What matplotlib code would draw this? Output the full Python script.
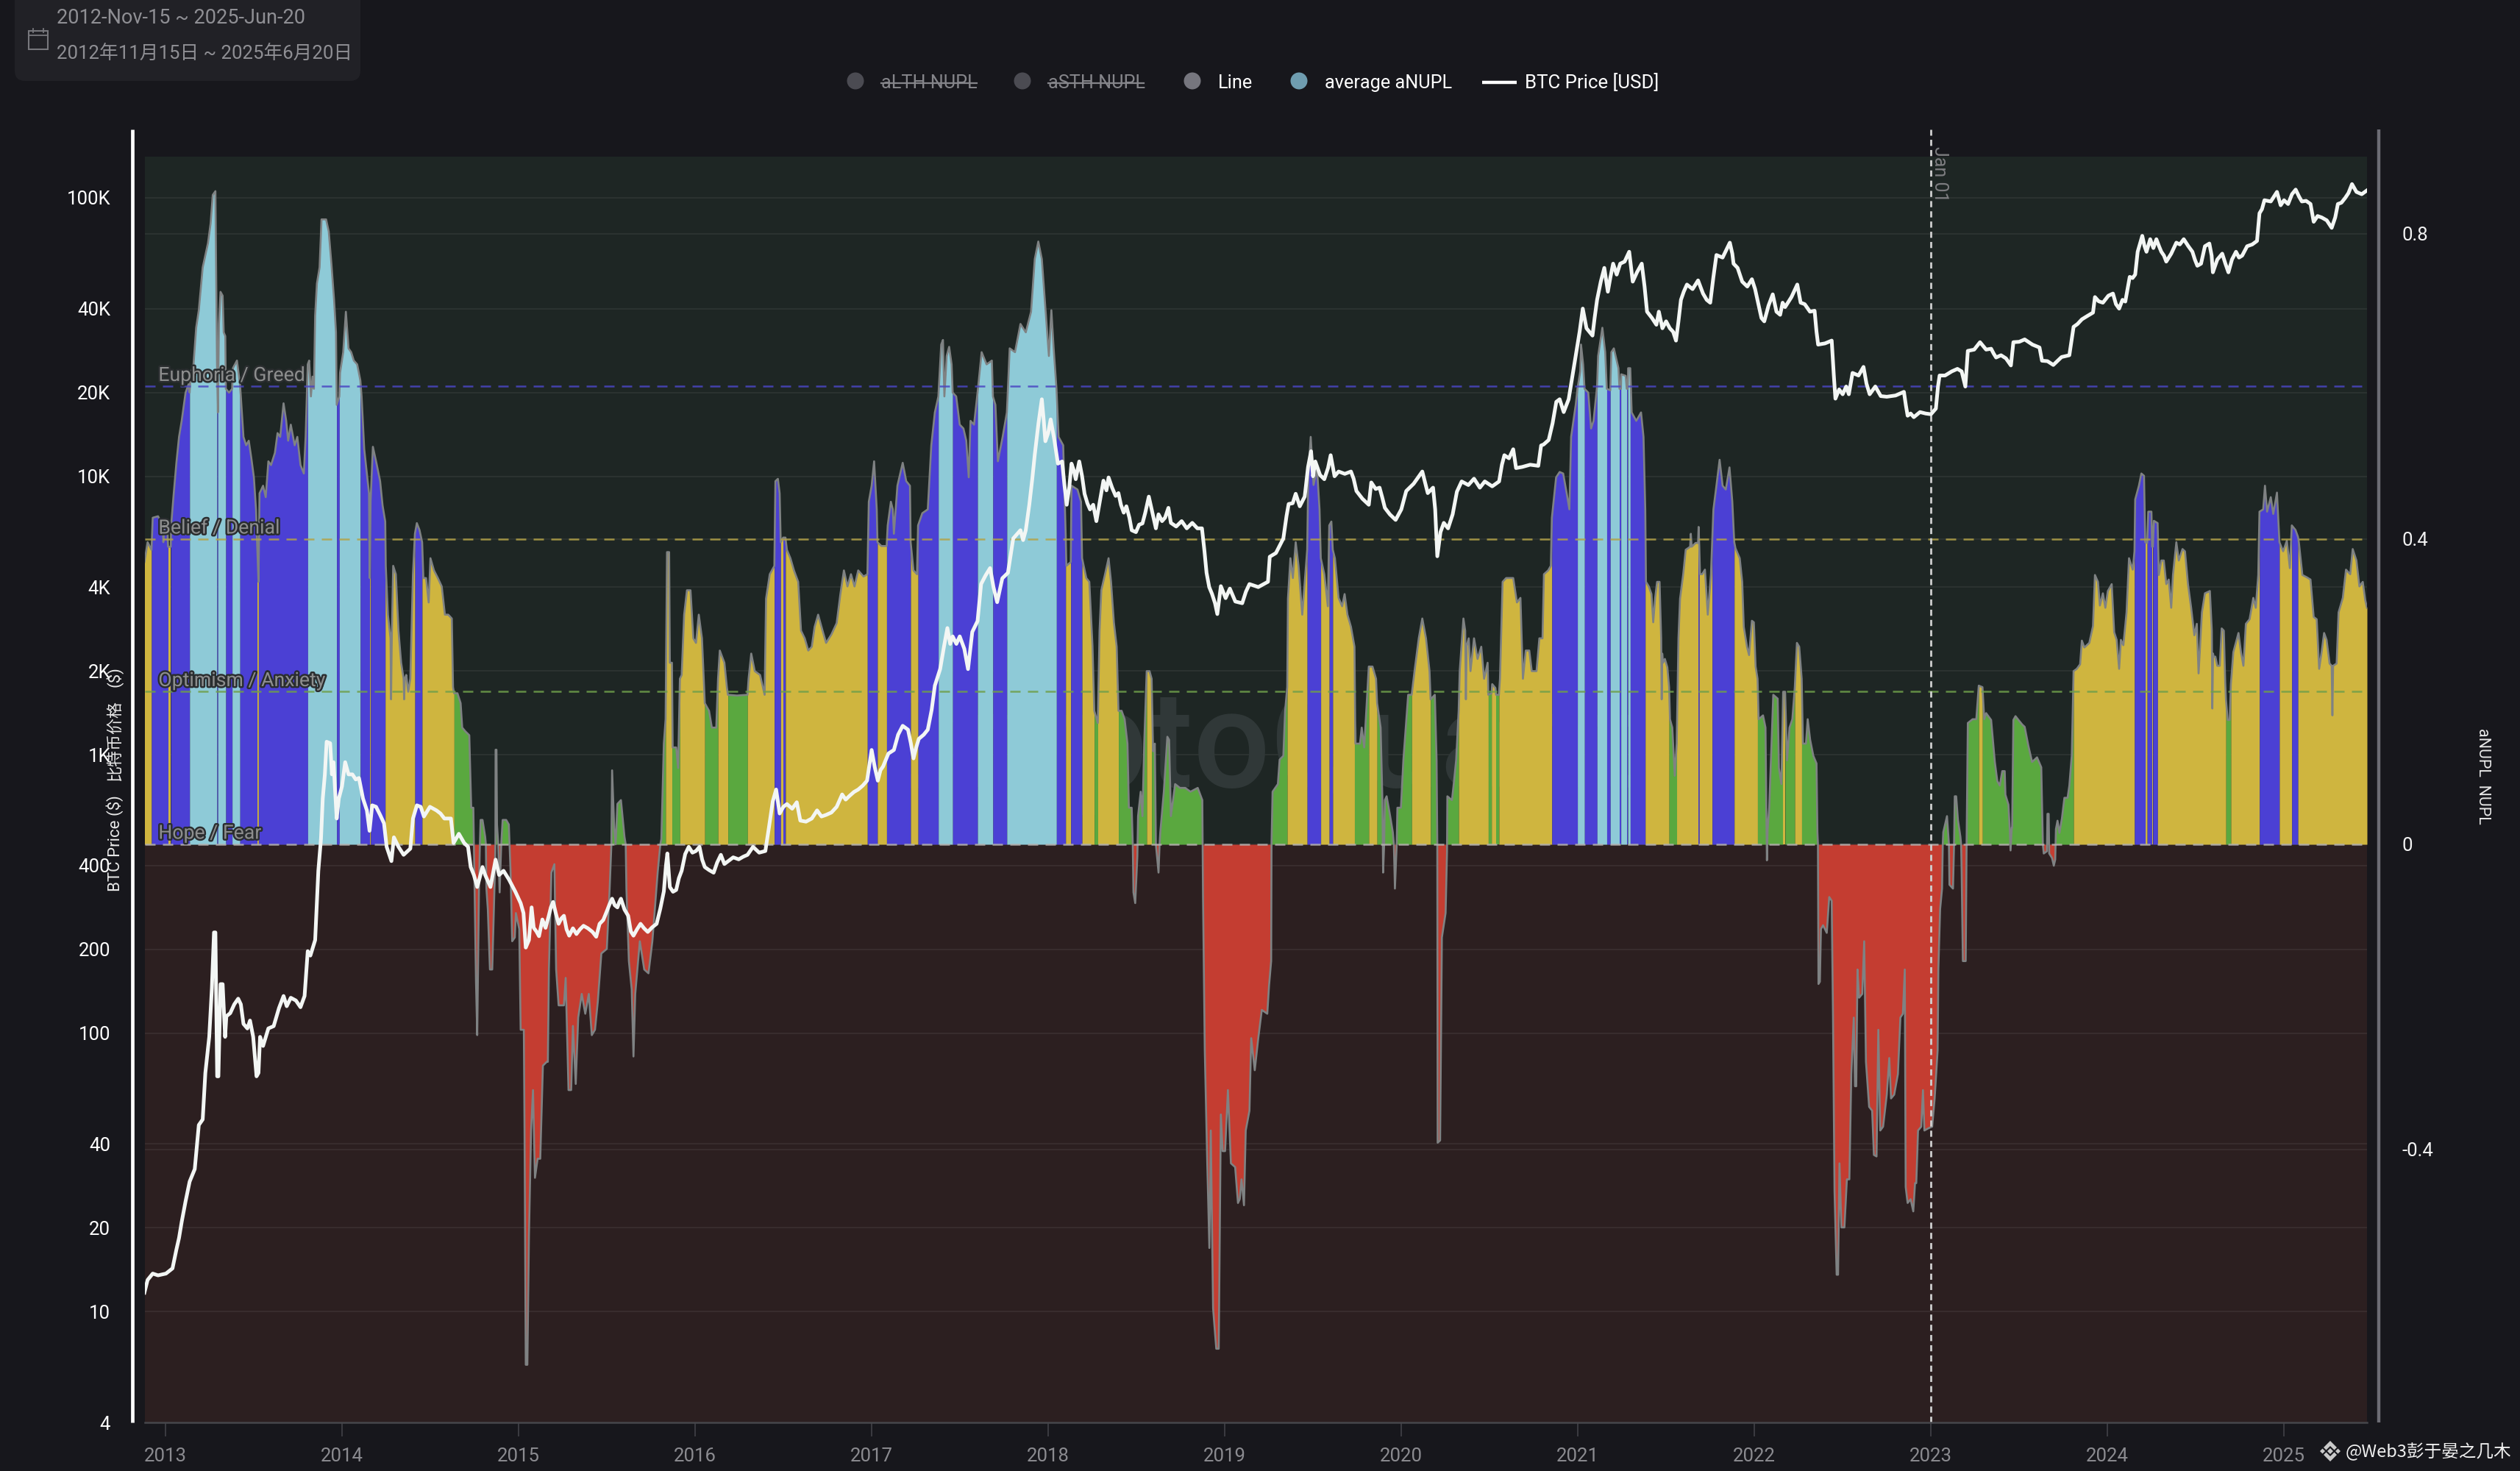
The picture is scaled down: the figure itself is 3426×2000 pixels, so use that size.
import numpy as np
import matplotlib
matplotlib.use("Agg")
import matplotlib.pyplot as plt
import matplotlib.patheffects as pe
from matplotlib.patches import FancyBboxPatch, Rectangle, Circle, Polygon

plt.rcParams["font.family"] = ["Roboto", "Noto Sans CJK SC", "DejaVu Sans"]

# aNUPL as (decimal year, value)
nupl_2013 = [(2012.881,.37),(2012.899,.396),(2012.921,.386),(2012.928,.428),(2012.958,.43),(2012.985,.418),(2012.988,.396),(2012.995,.423),
 (2013.010,.418),(2013.015,.39),(2013.030,.39),(2013.033,.42),(2013.047,.46),(2013.062,.50),(2013.077,.534),(2013.092,.555),(2013.114,.592),
 (2013.131,.603),(2013.137,.592),(2013.144,.618),(2013.159,.629),(2013.174,.677),(2013.189,.70),(2013.211,.756),(2013.226,.772),(2013.241,.788),
 (2013.256,.814),(2013.268,.851),(2013.283,.856),(2013.286,.777),(2013.292,.63),(2013.297,.566),(2013.303,.682),(2013.312,.724),(2013.324,.719),
 (2013.330,.671),(2013.339,.666),(2013.342,.597),(2013.360,.592),(2013.378,.597),(2013.382,.624),(2013.405,.634),(2013.422,.603),(2013.427,.587),
 (2013.442,.534),(2013.457,.523),(2013.472,.529),(2013.486,.507),(2013.501,.481),(2013.513,.439),(2013.519,.396),(2013.527,.344),(2013.533,.46),
 (2013.553,.47),(2013.568,.455),(2013.583,.502),(2013.598,.497),(2013.620,.513),(2013.635,.539),(2013.650,.534),(2013.669,.578),(2013.684,.555),
 (2013.695,.529),(2013.710,.55),(2013.732,.523),(2013.747,.534),(2013.765,.497),(2013.784,.486),(2013.794,.534),(2013.806,.629),(2013.814,.634),
 (2013.824,.587),(2013.833,.613),(2013.841,.597),(2013.848,.693),(2013.858,.735),(2013.873,.756),(2013.884,.819),(2013.910,.819),(2013.925,.803),
 (2013.940,.761),(2013.955,.714),(2013.966,.671),(2013.970,.576),(2013.985,.587),(2013.989,.618)]
nupl_2014 = [(2014.007,.645),(2014.022,.698),(2014.037,.65),(2014.052,.645),(2014.067,.634),(2014.086,.629),(2014.104,.608),(2014.111,.587),
 (2014.126,.518),(2014.141,.486),(2014.153,.46),(2014.157,.349),(2014.162,.45),(2014.175,.521),(2014.193,.502),(2014.216,.476),(2014.230,.444),
 (2014.245,.423),(2014.248,.365),(2014.260,.301),(2014.275,.27),(2014.278,.19),(2014.282,.27),(2014.290,.365),(2014.305,.354),(2014.320,.28),
 (2014.335,.238),(2014.349,.217),(2014.352,.19),(2014.356,.217),(2014.364,.222),(2014.375,.20),(2014.387,.217),(2014.402,.354),(2014.413,.407),
 (2014.424,.421),(2014.439,.412),(2014.454,.396),(2014.461,.349),(2014.476,.349),(2014.491,.317),(2014.501,.375),(2014.521,.359),(2014.543,.349),
 (2014.565,.338),(2014.583,.301),(2014.602,.301),(2014.622,.296),(2014.629,.206),(2014.635,.198),(2014.654,.198),(2014.672,.185),(2014.681,.153),
 (2014.699,.148),(2014.721,.143),(2014.732,.048),(2014.744,.048),(2014.747,0),(2014.751,-.058),(2014.759,-.18),(2014.766,-.25),(2014.776,-.058),
 (2014.781,0),(2014.785,.032),(2014.796,.032),(2014.811,.01),(2014.815,0),(2014.818,-.058),(2014.826,-.085),(2014.838,-.164),(2014.851,-.164),
 (2014.866,-.037),(2014.869,0),(2014.870,.124),(2014.875,.124),(2014.878,.026),(2014.885,0),(2014.893,-.063),(2014.902,0),(2014.910,.032),
 (2014.930,.032),(2014.945,.026),(2014.949,0),(2014.955,-.037),(2014.964,-.127),(2014.979,-.122),(2014.985,-.09)]
nupl_2015 = [(2015.004,-.111),(2015.012,-.243),(2015.030,-.243),(2015.034,-.375),(2015.041,-.682),(2015.050,-.682),(2015.059,-.513),(2015.071,-.375),
 (2015.082,-.322),(2015.093,-.437),(2015.108,-.412),(2015.123,-.412),(2015.138,-.29),(2015.160,-.285),(2015.166,-.285),(2015.172,-.164),
 (2015.186,-.037),(2015.203,-.026),(2015.213,-.164),(2015.227,-.211),(2015.257,-.211),(2015.267,-.175),(2015.283,-.322),(2015.298,-.322),
 (2015.308,-.238),(2015.324,-.314),(2015.338,-.227),(2015.358,-.196),(2015.378,-.222),(2015.398,-.196),(2015.415,-.25),(2015.433,-.243),
 (2015.449,-.206),(2015.469,-.143),(2015.500,-.137),(2015.516,-.058),(2015.526,0),(2015.530,.097),(2015.542,.021),(2015.550,0),(2015.560,.053),
 (2015.580,.058),(2015.600,.01),(2015.607,0),(2015.611,-.058),(2015.625,-.153),(2015.641,-.19),(2015.651,-.278),(2015.661,-.196),(2015.687,-.127),
 (2015.712,-.164),(2015.736,-.169),(2015.758,-.127),(2015.788,-.037),(2015.803,0),(2015.809,.007),(2015.823,.132),(2015.833,.164),(2015.841,.383),
 (2015.853,.383),(2015.857,.238),(2015.869,.238),(2015.873,.127),(2015.893,.127),(2015.904,.10),(2015.914,.217),(2015.924,.222),(2015.938,.301),
 (2015.954,.333),(2015.974,.333),(2015.990,.27)]
nupl_2016 = [(2016.005,.264),(2016.021,.301),(2016.039,.27),(2016.049,.217),(2016.055,.185),(2016.079,.175),(2016.095,.153),(2016.120,.153),
 (2016.130,.217),(2016.140,.254),(2016.166,.238),(2016.180,.206),(2016.186,.196),(2016.237,.195),(2016.297,.196),(2016.303,.217),(2016.318,.25),
 (2016.338,.227),(2016.368,.222),(2016.394,.196),(2016.402,.322),(2016.423,.354),(2016.449,.365),(2016.455,.476),(2016.469,.479),(2016.479,.46),
 (2016.485,.396),(2016.499,.402),(2016.512,.402),(2016.520,.386),(2016.540,.375),(2016.560,.359),(2016.584,.344),(2016.600,.28),(2016.621,.27),
 (2016.641,.254),(2016.661,.259),(2016.677,.285),(2016.697,.301),(2016.722,.28),(2016.742,.264),(2016.772,.275),(2016.802,.29),(2016.823,.328),
 (2016.843,.359),(2016.863,.338),(2016.883,.354),(2016.903,.338),(2016.924,.359),(2016.954,.351),(2016.976,.354),(2016.984,.449)]
nupl_2017 = [(2017.000,.47),(2017.014,.502),(2017.029,.439),(2017.033,.396),(2017.055,.391),(2017.085,.391),(2017.091,.418),(2017.109,.449),
 (2017.120,.439),(2017.126,.407),(2017.146,.47),(2017.176,.50),(2017.196,.476),(2017.217,.47),(2017.221,.396),(2017.237,.359),(2017.257,.354),
 (2017.263,.418),(2017.287,.434),(2017.318,.439),(2017.338,.523),(2017.358,.566),(2017.378,.587),(2017.394,.655),(2017.404,.661),(2017.412,.587),
 (2017.425,.64),(2017.439,.652),(2017.453,.629),(2017.459,.592),(2017.479,.587),(2017.499,.55),(2017.520,.545),(2017.536,.529),(2017.550,.481),
 (2017.560,.555),(2017.580,.55),(2017.600,.592),(2017.623,.645),(2017.651,.629),(2017.681,.634),(2017.687,.587),(2017.701,.576),(2017.715,.502),
 (2017.742,.534),(2017.766,.566),(2017.782,.65),(2017.812,.645),(2017.843,.682),(2017.873,.671),(2017.903,.698),(2017.924,.767),(2017.944,.79),
 (2017.964,.767),(2017.984,.703)]
nupl_2018 = [(2018.004,.64),(2018.018,.70),(2018.031,.65),(2018.047,.597),(2018.059,.534),(2018.085,.523),(2018.099,.407),(2018.103,.365),
 (2018.128,.37),(2018.132,.47),(2018.166,.465),(2018.186,.449),(2018.192,.375),(2018.216,.349),(2018.233,.344),(2018.251,.26),(2018.261,.175),
 (2018.281,.159),(2018.291,.28),(2018.301,.333),(2018.322,.354),(2018.342,.375),(2018.356,.344),(2018.372,.291),(2018.388,.259),(2018.398,.175),
 (2018.416,.175),(2018.433,.164),(2018.449,.132),(2018.457,.048),(2018.473,.048),(2018.479,0),(2018.483,-.063),(2018.493,-.077),(2018.505,-.016),
 (2018.509,.037),(2018.524,.069),(2018.534,.037),(2018.544,.132),(2018.558,.227),(2018.574,.227),(2018.586,.217),(2018.594,.122),(2018.604,.132),
 (2018.610,0),(2018.625,-.037),(2018.631,0),(2018.635,.016),(2018.655,.069),(2018.675,.141),(2018.685,.137),(2018.695,.037),(2018.719,.079),
 (2018.746,.074),(2018.776,.074),(2018.806,.069),(2018.847,.074),(2018.873,.058),(2018.877,-.069),(2018.887,-.27),(2018.901,-.418),(2018.913,-.529),
 (2018.921,-.375),(2018.934,-.608),(2018.952,-.661),(2018.966,-.661),(2018.978,-.354),(2018.988,-.402)]
nupl_2019 = [(2019.002,-.402),(2019.018,-.322),(2019.035,-.418),(2019.059,-.423),(2019.075,-.47),(2019.085,-.465),(2019.095,-.439),(2019.109,-.473),
 (2019.119,-.375),(2019.140,-.349),(2019.150,-.254),(2019.170,-.296),(2019.190,-.254),(2019.210,-.217),(2019.241,-.222),(2019.251,-.185),
 (2019.263,-.153),(2019.265,0),(2019.271,.069),(2019.301,.079),(2019.311,.111),(2019.332,.116),(2019.342,.175),(2019.354,.206),(2019.358,.322),
 (2019.372,.375),(2019.386,.349),(2019.402,.396),(2019.418,.365),(2019.439,.301),(2019.453,.344),(2019.467,.386),(2019.473,.481),(2019.487,.534),
 (2019.503,.471),(2019.523,.492),(2019.537,.439),(2019.544,.375),(2019.564,.354),(2019.584,.312),(2019.592,.418),(2019.604,.423),(2019.612,.386),
 (2019.624,.375),(2019.645,.323),(2019.665,.312),(2019.679,.328),(2019.695,.301),(2019.715,.285),(2019.735,.259),(2019.740,.132),(2019.766,.132),
 (2019.776,.153),(2019.790,.127),(2019.816,.233),(2019.837,.233),(2019.857,.217),(2019.863,.185),(2019.883,.153),(2019.893,.058),(2019.897,-.037),
 (2019.903,0),(2019.907,.058),(2019.917,.063),(2019.937,.037),(2019.952,.016),(2019.958,0),(2019.964,-.058),(2019.974,0),(2019.978,.048),(2019.998,.048)]
nupl_2020 = [(2020.012,.111),(2020.039,.196),(2020.059,.196),(2020.075,.227),(2020.099,.27),(2020.119,.296),(2020.140,.27),(2020.160,.227),
 (2020.166,.19),(2020.190,.196),(2020.200,.11),(2020.204,0),(2020.206,-.391),(2020.220,-.388),(2020.230,-.122),(2020.251,-.09),(2020.259,-.01),
 (2020.261,.063),(2020.287,.058),(2020.297,.079),(2020.311,.111),(2020.325,.175),(2020.331,.227),(2020.352,.296),(2020.362,.28),(2020.366,.19),
 (2020.370,.26),(2020.382,.27),(2020.392,.227),(2020.412,.27),(2020.432,.243),(2020.453,.259),(2020.469,.217),(2020.489,.238),(2020.493,.196),
 (2020.511,.198),(2020.515,.21),(2020.533,.205),(2020.537,.196),(2020.553,.196),(2020.559,.217),(2020.574,.344),(2020.594,.349),(2020.634,.349),
 (2020.655,.317),(2020.675,.323),(2020.689,.217),(2020.705,.254),(2020.725,.254),(2020.739,.227),(2020.766,.227),(2020.782,.27),(2020.800,.27),
 (2020.808,.354),(2020.832,.359),(2020.847,.365),(2020.853,.428),(2020.877,.481),(2020.897,.488),(2020.917,.486),(2020.937,.46),(2020.952,.439),
 (2020.962,.534),(2020.988,.576),(2020.998,.597)]
nupl_2021 = [(2021.014,.62),(2021.018,.655),(2021.030,.629),(2021.038,.597),(2021.059,.592),(2021.075,.545),(2021.089,.555),(2021.109,.60),
 (2021.115,.64),(2021.139,.677),(2021.155,.645),(2021.164,.597),(2021.184,.595),(2021.190,.645),(2021.204,.65),(2021.230,.624),(2021.236,.597),
 (2021.244,.597),(2021.246,.616),(2021.271,.614),(2021.277,.597),(2021.283,.597),(2021.285,.624),(2021.297,.624),(2021.305,.566),(2021.331,.555),
 (2021.358,.566),(2021.372,.534),(2021.382,.439),(2021.386,.344),(2021.402,.338),(2021.417,.328),(2021.427,.291),(2021.438,.323),(2021.449,.344),
 (2021.463,.344),(2021.472,.27),(2021.475,.19),(2021.478,.25),(2021.482,.238),(2021.493,.243),(2021.507,.232),(2021.517,.206),(2021.522,.164),
 (2021.535,.153),(2021.549,.09),(2021.560,.132),(2021.570,.27),(2021.579,.322),(2021.597,.354),(2021.611,.386),(2021.636,.39),(2021.640,.407),
 (2021.645,.39),(2021.667,.395),(2021.681,.395),(2021.684,.416),(2021.688,.39),(2021.692,.354),(2021.704,.354),(2021.720,.36),(2021.736,.301),
 (2021.754,.354),(2021.761,.396),(2021.768,.439),(2021.785,.47),(2021.803,.504),(2021.820,.47),(2021.838,.465),(2021.859,.494),(2021.875,.449),
 (2021.886,.396),(2021.893,.388),(2021.917,.375),(2021.931,.344),(2021.940,.285),(2021.958,.259),(2021.970,.248),(2021.986,.293),(2021.997,.291)]
nupl_2022 = [(2022.007,.233),(2022.018,.217),(2022.024,.164),(2022.049,.169),(2022.063,.153),(2022.068,.037),(2022.071,-.021),(2022.075,.02),
 (2022.084,.048),(2022.097,.132),(2022.107,.196),(2022.132,.191),(2022.139,.10),(2022.153,.079),(2022.163,.2),(2022.174,.2),(2022.185,.11),
 (2022.199,.153),(2022.215,.164),(2022.229,.206),(2022.241,.264),(2022.254,.259),(2022.268,.217),(2022.275,.132),(2022.292,.132),(2022.302,.164),
 (2022.316,.137),(2022.334,.116),(2022.352,.106),(2022.357,.016),(2022.360,0),(2022.363,-.183),(2022.371,-.18),(2022.377,-.111),(2022.389,-.106),
 (2022.410,-.116),(2022.424,-.069),(2022.438,-.074),(2022.445,-.217),(2022.454,-.455),(2022.466,-.564),(2022.474,-.564),(2022.482,-.418),
 (2022.493,-.502),(2022.510,-.502),(2022.524,-.439),(2022.538,-.439),(2022.549,-.301),(2022.563,-.227),(2022.570,-.317),(2022.577,-.317),
 (2022.584,-.164),(2022.593,-.201),(2022.611,-.196),(2022.622,-.127),(2022.632,-.285),(2022.650,-.344),(2022.667,-.349),(2022.677,-.407),
 (2022.692,-.409),(2022.702,-.243),(2022.713,-.375),(2022.729,-.37),(2022.750,-.328),(2022.764,-.28),(2022.774,-.333),(2022.792,-.328),
 (2022.813,-.301),(2022.827,-.227),(2022.841,-.222),(2022.852,-.164),(2022.857,-.449),(2022.868,-.47),(2022.885,-.465),(2022.900,-.481),
 (2022.910,-.444),(2022.917,-.444),(2022.927,-.375),(2022.945,-.37),(2022.955,-.322),(2022.963,-.375),(2022.986,-.372)]
nupl_2023 = [(2023.007,-.37),(2023.021,-.333),(2023.038,-.27),(2023.042,-.164),(2023.052,-.085),(2023.063,-.058),(2023.067,0),(2023.070,.016),
 (2023.091,.037),(2023.102,0),(2023.105,-.053),(2023.125,-.058),(2023.131,0),(2023.135,.063),(2023.143,.063),(2023.153,.032),(2023.167,.01),
 (2023.171,0),(2023.174,-.037),(2023.181,-.153),(2023.197,-.153),(2023.202,0),(2023.209,.159),(2023.236,.164),(2023.257,.164),(2023.271,.208),
 (2023.292,.206),(2023.302,.164),(2023.3125,.172),(2023.341,.163),(2023.362,.108),(2023.376,.083),(2023.390,.077),(2023.404,.096),(2023.418,.096),
 (2023.422,.065),(2023.439,.052),(2023.446,.022),(2023.451,-.008),(2023.458,.022),(2023.460,.022),(2023.467,.163),(2023.479,.168),(2023.496,.163),
 (2023.517,.157),(2023.531,.154),(2023.552,.129),(2023.573,.108),(2023.601,.114),(2023.625,.101),(2023.634,0),(2023.639,-.012),(2023.657,-.009),
 (2023.660,.04),(2023.667,.04),(2023.670,-.012),(2023.686,-.018),(2023.696,-.028),(2023.704,-.02),(2023.708,.02),(2023.717,.031),(2023.728,.015),
 (2023.742,.034),(2023.756,.061),(2023.774,.061),(2023.784,.077),(2023.798,.117),(2023.808,.227),(2023.826,.23),(2023.845,.236),(2023.855,.267),
 (2023.869,.258),(2023.897,.264),(2023.918,.286),(2023.929,.353),(2023.946,.344),(2023.957,.313),(2023.974,.329),(2023.988,.31)]
nupl_2024 = [(2024.002,.332),(2024.024,.341),(2024.038,.278),(2024.052,.268),(2024.066,.23),(2024.076,.268),(2024.090,.261),(2024.108,.304),
 (2024.122,.375),(2024.143,.36),(2024.153,.384),(2024.157,.452),(2024.178,.47),(2024.192,.486),(2024.207,.483),(2024.214,.396),(2024.225,.395),
 (2024.231,.436),(2024.249,.436),(2024.253,.39),(2024.257,.39),(2024.263,.424),(2024.284,.421),(2024.291,.353),(2024.305,.372),(2024.319,.372),
 (2024.333,.341),(2024.347,.347),(2024.361,.31),(2024.371,.353),(2024.390,.396),(2024.404,.372),(2024.425,.387),(2024.439,.384),(2024.456,.341),
 (2024.474,.31),(2024.492,.274),(2024.506,.289),(2024.516,.224),(2024.535,.304),(2024.552,.329),(2024.580,.332),(2024.591,.28),(2024.594,.178),
 (2024.598,.25),(2024.601,.246),(2024.611,.246),(2024.622,.234),(2024.636,.234),(2024.647,.283),(2024.659,.28),(2024.667,.212),(2024.671,.19),
 (2024.681,.163),(2024.692,.163),(2024.699,.21),(2024.713,.252),(2024.742,.277),(2024.756,.252),(2024.770,.234),(2024.784,.289),(2024.805,.295),
 (2024.826,.323),(2024.840,.31),(2024.854,.353),(2024.861,.436),(2024.882,.439),(2024.892,.47),(2024.904,.436),(2024.925,.455),(2024.939,.433),
 (2024.960,.461),(2024.971,.409),(2024.974,.396),(2024.995,.384)]
nupl_2025 = [(2025.016,.398),(2025.033,.362),(2025.044,.418),(2025.065,.412),(2025.079,.403),(2025.084,.396),(2025.104,.353),(2025.129,.35),
 (2025.150,.347),(2025.168,.298),(2025.185,.295),(2025.199,.23),(2025.213,.252),(2025.227,.277),(2025.241,.268),(2025.258,.237),(2025.270,.234),
 (2025.274,.169),(2025.278,.234),(2025.298,.237),(2025.309,.304),(2025.333,.323),(2025.351,.36),(2025.375,.354),(2025.389,.387),(2025.410,.372),
 (2025.427,.338),(2025.446,.344),(2025.460,.32),(2025.470,.31)]

# BTC price in USD, also (decimal year, value)
price_2013 = [(2012.881,11.7),(2012.899,13),(2012.928,13.7),(2012.958,13.5),(2013.003,13.7),(2013.040,14.3),(2013.062,16.7),(2013.077,18.4),
 (2013.092,21),(2013.114,24.9),(2013.137,29.3),(2013.166,32.5),(2013.189,46.8),(2013.211,49),(2013.226,72),(2013.248,97),(2013.263,145),
 (2013.275,230),(2013.283,230),(2013.293,70),(2013.300,70),(2013.312,150),(2013.324,150),(2013.338,97),(2013.345,115),(2013.367,118),(2013.390,127),
 (2013.412,133),(2013.427,127),(2013.442,108),(2013.464,104),(2013.479,111),(2013.497,97),(2013.516,70),(2013.527,72),(2013.536,97),(2013.553,90),
 (2013.583,104),(2013.613,106),(2013.643,123),(2013.669,136),(2013.687,125),(2013.710,134),(2013.739,131),(2013.765,124),(2013.788,136),(2013.806,197),
 (2013.821,190),(2013.848,216),(2013.866,383),(2013.881,499),(2013.891,696),(2013.903,850),(2013.913,1113),(2013.933,1100),(2013.943,850),
 (2013.952,940),(2013.970,590),(2013.982,696)]
price_2014 = [(2014.000,770),(2014.018,940),(2014.037,850),(2014.059,850),(2014.078,815),(2014.096,825),(2014.119,696),(2014.141,631),(2014.156,533),(2014.171,658),
 (2014.193,650),(2014.216,608),(2014.238,567),(2014.253,467),(2014.280,415),(2014.294,505),(2014.320,467),(2014.349,437),(2014.387,460),(2014.402,590),
 (2014.424,658),(2014.446,650),(2014.464,600),(2014.498,650),(2014.535,631),(2014.558,615),(2014.580,590),(2014.617,590),(2014.632,482),(2014.662,520),(2014.692,482),
 (2014.714,467),(2014.729,395),(2014.747,370),(2014.766,335),(2014.796,395),(2014.811,370),(2014.841,335),(2014.870,420),(2014.890,370),(2014.915,383),
 (2014.945,357),(2014.982,322)]
price_2015 = [(2015.012,293),(2015.028,270),(2015.041,203),(2015.059,216),(2015.074,283),(2015.086,239),(2015.101,232),(2015.116,223),(2015.135,256),(2015.153,239),
 (2015.170,262),(2015.183,283),(2015.196,296),(2015.212,268),(2015.227,247),(2015.242,258),(2015.257,264),(2015.272,236),(2015.287,224),(2015.308,238),(2015.328,227),
 (2015.348,236),(2015.368,243),(2015.393,238),(2015.419,231),(2015.440,222),(2015.459,247),(2015.480,255),(2015.500,274),(2015.515,290),(2015.530,304),(2015.545,288),
 (2015.560,283),(2015.570,295),(2015.580,304),(2015.600,278),(2015.621,264),(2015.636,232),(2015.651,224),(2015.671,236),(2015.691,247),(2015.711,238),(2015.732,231),
 (2015.757,240),(2015.782,247),(2015.803,280),(2015.823,323),(2015.835,400),(2015.843,442),(2015.857,335),(2015.875,322),(2015.893,327),(2015.908,360),(2015.924,383),
 (2015.944,440),(2015.964,467),(2015.985,445)]
price_2016 = [(2016.005,451),(2016.025,467),(2016.040,420),(2016.055,395),(2016.080,385),(2016.105,377),(2016.125,410),(2016.146,437),(2016.166,405),(2016.186,414),(2016.216,428),(2016.247,421),
 (2016.272,430),(2016.297,437),(2016.328,467),(2016.363,445),(2016.398,451),(2016.419,552),(2016.440,680),(2016.459,750),(2016.479,615),(2016.500,650),(2016.520,665),(2016.550,640),(2016.576,675),
 (2016.596,580),(2016.628,575),(2016.661,590),(2016.691,631),(2016.716,600),(2016.742,608),(2016.772,620),(2016.802,650),(2016.833,720),(2016.853,690),(2016.873,710),(2016.900,735),(2016.924,750),(2016.950,775),(2016.974,807)]
price_2017 = [(2017.000,1040),(2017.018,900),(2017.035,807),(2017.050,880),(2017.065,908),(2017.095,1010),(2017.126,1040),(2017.150,1180),(2017.176,1270),(2017.206,1230),(2017.222,1100),(2017.237,970),(2017.252,1060),(2017.267,1140),
 (2017.295,1180),(2017.318,1230),(2017.340,1450),(2017.358,1770),(2017.388,2030),(2017.410,2450),(2017.429,2850),(2017.445,2500),(2017.459,2660),(2017.480,2500),(2017.499,2660),(2017.525,2400),(2017.546,2030),(2017.570,2760),(2017.600,3020),
 (2017.620,4100),(2017.645,4400),(2017.671,4680),(2017.690,4000),(2017.711,3530),(2017.740,4300),(2017.772,4500),(2017.802,5980),(2017.843,6400),(2017.858,5900),(2017.873,6400),(2017.893,7900),(2017.910,9800),(2017.924,11960),
 (2017.945,15500),(2017.964,18900),(2017.975,15800),(2017.984,13360)]
price_2018 = [(2018.000,14300),(2018.014,16000),(2018.035,13500),(2018.055,11100),(2018.079,11300),(2018.092,9300),(2018.105,7900),(2018.120,9200),(2018.132,11100),(2018.145,10500),(2018.156,9760),(2018.176,11300),(2018.192,10000),(2018.206,8650),
 (2018.222,8000),(2018.237,7600),(2018.255,7900),(2018.273,6900),(2018.295,8300),(2018.313,9640),(2018.330,8900),(2018.342,9900),(2018.362,9100),(2018.382,8500),(2018.398,8700),(2018.412,7900),(2018.428,7400),(2018.443,7800),(2018.460,7100),(2018.473,6400),(2018.497,6300),
 (2018.515,6700),(2018.534,6770),(2018.550,7400),(2018.570,8450),(2018.590,7400),(2018.610,6500),(2018.625,7300),(2018.645,6900),(2018.662,7100),(2018.681,7700),(2018.695,6800),(2018.725,6600),(2018.756,6900),(2018.785,6500),(2018.816,6800),(2018.845,6500),(2018.871,6500),
 (2018.885,5400),(2018.897,4500),(2018.912,4000),(2018.928,3780),(2018.945,3500),(2018.958,3200),(2018.978,4030)]
price_2019 = [(2019.005,3650),(2019.029,3950),(2019.060,3550),(2019.099,3500),(2019.120,3850),(2019.140,4100),(2019.190,4000),(2019.245,4180),(2019.255,5140),(2019.290,5300),(2019.332,5980),(2019.350,7200),(2019.362,7950),(2019.385,8000),(2019.402,8650),(2019.425,7800),(2019.453,8450),
 (2019.472,10800),(2019.489,12300),(2019.500,10000),(2019.513,11300),(2019.540,10100),(2019.564,9760),(2019.585,10700),(2019.600,11900),(2019.622,10000),(2019.645,10400),(2019.680,10200),(2019.715,10400),(2019.730,9800),(2019.746,8850),(2019.780,8300),(2019.816,7900),(2019.830,9500),
 (2019.855,9000),(2019.877,9100),(2019.892,8400),(2019.907,7700),(2019.935,7300),(2019.968,6970)]
price_2020 = [(2020.000,7600),(2020.028,8850),(2020.070,9400),(2020.119,10400),(2020.150,8700),(2020.180,9100),(2020.192,7600),(2020.204,5160),(2020.222,6300),(2020.241,6800),(2020.265,6500),(2020.291,7300),(2020.315,8800),(2020.342,9580),(2020.380,9300),(2020.412,9800),(2020.445,9100),(2020.473,9580),
 (2020.515,9200),(2020.554,9580),(2020.570,11000),(2020.584,11900),(2020.610,11600),(2020.634,12500),(2020.650,10700),(2020.685,10800),(2020.730,11000),(2020.776,10900),(2020.792,12900),(2020.806,13000),(2020.835,13500),(2020.857,15500),(2020.878,18500),(2020.897,18900),(2020.920,17000),(2020.948,18900),
 (2020.970,23000),(2020.988,27000)]
price_2021 = [(2021.010,33000),(2021.028,40000),(2021.049,34000),(2021.083,32000),(2021.095,37000),(2021.109,43000),(2021.130,50000),(2021.150,56000),(2021.170,46000),(2021.185,52000),(2021.200,58000),(2021.220,53000),(2021.240,58000),
 (2021.265,59000),(2021.291,64000),(2021.311,50000),(2021.335,54000),(2021.362,58000),(2021.378,48000),(2021.392,39000),(2021.420,37000),(2021.445,35000),(2021.459,39000),(2021.479,34000),(2021.500,36000),(2021.521,34000),(2021.540,33000),(2021.556,30700),
 (2021.570,36000),(2021.584,43000),(2021.600,46000),(2021.618,48800),(2021.650,47000),(2021.681,50500),(2021.709,45300),(2021.730,43000),(2021.750,42000),(2021.768,52000),(2021.785,62300),(2021.820,61000),(2021.861,69000),(2021.875,63000),(2021.882,58000),(2021.905,56000),(2021.931,50000),
 (2021.960,48000),(2021.986,51000)]
price_2022 = [(2022.004,47000),(2022.021,42000),(2022.040,37000),(2022.056,36000),(2022.080,41000),(2022.104,45000),(2022.125,39000),(2022.146,38000),(2022.160,42000),(2022.174,40500),(2022.210,44000),(2022.243,48800),(2022.262,42000),(2022.285,41500),(2022.315,39000),(2022.341,39300),
 (2022.352,33000),(2022.361,29700),(2022.400,30000),(2022.438,30700),(2022.450,23000),(2022.459,19000),(2022.480,20500),(2022.500,19700),(2022.520,21000),(2022.535,19700),(2022.556,23500),(2022.590,23000),(2022.618,24700),(2022.635,21500),(2022.653,19700),(2022.685,21000),(2022.716,19400),
 (2022.750,19300),(2022.800,19500),(2022.847,20100),(2022.858,18000),(2022.868,16500),(2022.885,16800),(2022.903,16300),(2022.938,17000),(2022.970,16800)]
price_2023 = [(2023.000,16700),(2023.028,17500),(2023.040,21000),(2023.049,23000),(2023.080,23000),(2023.118,23800),(2023.150,24300),(2023.174,23800),(2023.195,21000),(2023.209,28200),(2023.245,28500),(2023.278,30300),
 (2023.3125,28500),(2023.341,28700),(2023.355,27600),(2023.369,26700),(2023.397,27200),(2023.425,26500),(2023.453,25000),(2023.467,30300),(2023.500,30400),(2023.531,31000),(2023.575,29700),(2023.615,29000),(2023.629,26000),
 (2023.660,25900),(2023.693,25100),(2023.740,26800),(2023.784,27200),(2023.808,34400),(2023.830,35200),(2023.855,36600),(2023.885,37600),(2023.918,38700),(2023.929,44000),(2023.950,42500),(2023.974,42000)]
price_2024 = [(2024.005,44500),(2024.031,45300),(2024.048,41500),(2024.066,40000),(2024.085,43000),(2024.101,42400),(2024.126,52000),(2024.142,51500),(2024.157,53000),(2024.171,64000),(2024.197,73000),(2024.210,67000),(2024.221,64000),
 (2024.242,71000),(2024.260,66000),(2024.277,71000),(2024.292,67000),(2024.305,64000),(2024.320,62000),(2024.333,59000),(2024.347,61000),(2024.361,63000),(2024.390,69000),(2024.410,68000),(2024.432,71000),(2024.458,67000),(2024.481,64000),(2024.495,60000),(2024.509,57000),
 (2024.530,58000),(2024.552,67000),(2024.577,68500),(2024.590,62000),(2024.597,54000),(2024.622,60000),(2024.650,63000),(2024.668,58000),(2024.685,54000),(2024.705,60000),(2024.728,64000),(2024.745,61000),(2024.763,62000),
 (2024.791,67000),(2024.820,68000),(2024.847,70000),(2024.861,88000),(2024.875,91000),(2024.889,98000),(2024.925,97000),(2024.960,105000),(2024.981,94000)]
price_2025 = [(2025.000,98000),(2025.023,95000),(2025.045,103000),(2025.066,107000),(2025.085,101000),(2025.101,97000),(2025.125,97500),(2025.150,95000),(2025.168,82000),(2025.190,86000),(2025.213,85000),(2025.242,83000),(2025.270,78000),(2025.290,85000),(2025.305,95000),
 (2025.325,96000),(2025.347,100000),(2025.365,104000),(2025.385,112000),(2025.410,105000),(2025.440,103000),(2025.467,106000)]

years = list(range(2013, 2026))
price_ticks = [4, 10, 20, 40, 100, 200, 400, 1000, 2000, 4000, 10000, 20000, 40000, 100000]
price_labels = ["4", "10", "20", "40", "100", "200", "400", "1K", "2K", "4K", "10K", "20K", "40K", "100K"]
nupl_ticks = [-0.4, 0, 0.4, 0.8]
nupl_labels = ["-0.4", "0", "0.4", "0.8"]
zones = ["Hope / Fear", "Optimism / Anxiety", "Belief / Denial", "Euphoria / Greed"]
zone_levels = [0, 0.2, 0.4, 0.6]
zone_colors = ["#b5b2b0", "#6f9f4a", "#b3a248", "#4a46c2"]
band_edges = [0, 0.2, 0.4, 0.6]
band_colors = ["#c43d31", "#5aa83f", "#cfb53f", "#4b40d4", "#8ecad7"]

nupl = np.array(nupl_2013 + nupl_2014 + nupl_2015 + nupl_2016 + nupl_2017 + nupl_2018 + nupl_2019
                + nupl_2020 + nupl_2021 + nupl_2022 + nupl_2023 + nupl_2024 + nupl_2025)
price = np.array(price_2013 + price_2014 + price_2015 + price_2016 + price_2017 + price_2018 + price_2019
                 + price_2020 + price_2021 + price_2022 + price_2023 + price_2024 + price_2025)

BG = "#17171c"
W, H = 3426, 2000
left, right, top, bottom = 196.6, 3218, 213, 1934

fig = plt.figure(figsize=(W / 100, H / 100), dpi=100, facecolor=BG)
rect = [left / W, 1 - bottom / H, (right - left) / W, (bottom - top) / H]
ax_price = fig.add_axes(rect)
ax_nupl = ax_price.twinx()
ax_nupl.set_zorder(1)
ax_price.set_zorder(2)
ax_price.patch.set_visible(False)

ax_price.set_xlim(2012.882, 2025.47)
ax_price.set_yscale("log")
ax_price.set_ylim(4, 140500)
ax_nupl.set_ylim(-0.7576, 0.9012)

ax_nupl.axhspan(0, 0.9012, color="#1e2624", lw=0, zorder=0)
ax_nupl.axhspan(-0.7576, 0, color="#2c1f20", lw=0, zorder=0)

# gridlines sit under the bars, so they go on the lower axes
for p in price_ticks[1:]:
    ax_nupl.plot([0, 1], [p, p], transform=ax_price.get_yaxis_transform(), color="white", alpha=0.06, lw=1.4, zorder=0.5)
for v in nupl_ticks:
    ax_nupl.axhline(v, color="white", alpha=0.06, lw=1.4, zorder=0.5)

ax_nupl.text(1702 / W, 1 - 1070 / H, "CryptoQuant", transform=fig.transFigure, fontsize=133, fontweight="medium",
             color="#303838", ha="center", va="baseline", zorder=0.8)

# one fill per run of the same band, colour from the height of the segment
x, y = nupl[:, 0], nupl[:, 1]
bands = np.digitize((y[:-1] + y[1:]) / 2, band_edges)
start = 0
for i in range(1, len(bands) + 1):
    if i == len(bands) or bands[i] != bands[start]:
        ax_nupl.fill_between(x[start:i + 1], 0, y[start:i + 1], color=band_colors[bands[start]], lw=0, zorder=2)
        start = i
ax_nupl.plot(x, y, color="#7f8283", lw=1.9, zorder=3)

for name, level, col in zip(zones, zone_levels, zone_colors):
    ax_nupl.axhline(level, color=col, lw=1.8, dashes=(5.6, 4), zorder=4, alpha=0.85)
    ax_nupl.text(2012.96, level + 0.0145, name, fontsize=19.2, color="#8d8e8e", va="center", ha="left", zorder=5,
                 path_effects=[pe.withStroke(linewidth=3.5, foreground="#2a2d2f")])

ax_nupl.axvline(2023, ymin=0, ymax=1.0215, color="#cfcfcf", lw=2, dashes=(3, 2), zorder=6, clip_on=False)

ax_price.plot(price[:, 0], price[:, 1], color="#f3f6f4", lw=3.6, solid_joinstyle="round")

ax_price.set_xticks(years, [str(yr) for yr in years])
ax_price.set_yticks(price_ticks, price_labels)
ax_price.minorticks_off()
ax_nupl.set_yticks(nupl_ticks, nupl_labels)
ax_price.tick_params(axis="x", length=13.5, width=1.4, color="#3c3c42", labelcolor="#8b8b90", labelsize=18.5, pad=11)
ax_price.tick_params(axis="y", length=0, labelcolor="white", labelsize=18.5, pad=33.5)
ax_nupl.tick_params(axis="y", length=0, labelcolor="#f2f2f2", labelsize=18.5, pad=34)
for ax in (ax_price, ax_nupl):
    for side in ("top", "left", "right", "bottom"):
        ax.spines[side].set_visible(False)
ax_price.spines["bottom"].set_visible(True)
ax_price.spines["bottom"].set_color("#46464b")
ax_price.spines["bottom"].set_linewidth(1.8)

# everything around the plot, placed in pixels of the picture
over = fig.add_axes([0, 0, 1, 1], zorder=5)
over.set_xlim(0, W)
over.set_ylim(H, 0)
over.axis("off")

over.add_patch(FancyBboxPatch((20, -30), 470, 140, boxstyle="round,pad=0,rounding_size=14", fc="#212126", ec="none"))
over.add_patch(Rectangle((39, 42), 26, 25, fill=False, ec="#77777c", lw=1.5))
over.plot([39, 65], [48, 48], color="#77777c", lw=1.3)
over.plot([45, 45], [39, 44], color="#77777c", lw=1.3)
over.plot([59, 59], [39, 44], color="#77777c", lw=1.3)
over.text(77, 25, "2012-Nov-15 ~ 2025-Jun-20", fontsize=19.5, color="#8f8f94", va="center")
over.text(77, 73, "2012年11月15日 ~ 2025年6月20日", fontsize=18.5, color="#8f8f94", va="center")

over.plot([180, 180], [176, bottom], color="white", lw=3.4, solid_capstyle="butt")
over.plot([3234, 3234], [176, bottom], color="#6c6c74", lw=3.2, solid_capstyle="butt")

# the axis title is spread out in the reference, so three separate pieces
over.text(156, 1147, "BTC Price ($)", fontsize=16, color="#e8e8e8", rotation=90, ha="center", va="center")
over.text(156, 1007, "比特币价格", fontsize=15.8, color="#e8e8e8", rotation=90, ha="center", va="center",
          family=["Noto Sans CJK SC", "DejaVu Sans"])
over.text(156, 920, "($)", fontsize=16, color="#e8e8e8", rotation=90, ha="center", va="center")
over.text(3375, 1055, "aNUPL  NUPL", fontsize=15.5, color="#e8e8e8", rotation=-90, ha="center", va="center")
over.text(2637, 237, "Jan 01", fontsize=18, color="#7d7d80", rotation=-90, ha="center", va="center")

legend_items = [("aLTH NUPL", 1163, 1198, "#4b4b52", True), ("aSTH NUPL", 1390, 1425, "#4b4b52", True),
                ("Line", 1621, 1656, "#76767e", False), ("average aNUPL", 1766, 1801, "#6f9db0", False)]
for label, cx, tx, col, off in legend_items:
    over.add_patch(Circle((cx, 110), 11.5, fc=col, ec="none"))
    over.text(tx, 113, label, fontsize=18.2, color="#85858a" if off else "white", va="center")
    if off:
        over.plot([tx, tx + 130], [113, 113], color="#85858a", lw=1.6)
over.plot([2015, 2062], [112, 112], color="white", lw=3.2, solid_capstyle="butt")
over.text(2073, 113, "BTC Price [USD]", fontsize=18.6, color="white", va="center")

# small exchange logo next to the credit
lx, ly = 3168, 1973
logo_col = "#c9c9c9"
over.add_patch(Polygon([(lx - 4, ly), (lx, ly - 4), (lx + 4, ly), (lx, ly + 4)], fc=logo_col, ec="none"))
over.add_patch(Polygon([(lx - 14, ly), (lx - 10.5, ly - 3.5), (lx - 7, ly), (lx - 10.5, ly + 3.5)], fc=logo_col, ec="none"))
over.add_patch(Polygon([(lx + 14, ly), (lx + 10.5, ly - 3.5), (lx + 7, ly), (lx + 10.5, ly + 3.5)], fc=logo_col, ec="none"))
over.add_patch(Polygon([(lx, ly - 14), (lx + 9, ly - 5), (lx + 5.5, ly - 1.5), (lx, ly - 7), (lx - 5.5, ly - 1.5), (lx - 9, ly - 5)], fc=logo_col, ec="none"))
over.add_patch(Polygon([(lx, ly + 14), (lx + 9, ly + 5), (lx + 5.5, ly + 1.5), (lx, ly + 7), (lx - 5.5, ly + 1.5), (lx - 9, ly + 5)], fc=logo_col, ec="none"))
over.text(3189, 1974, "@Web3彭于晏之几木", fontsize=17, color="#f0f0f0", va="center",
          family=["Noto Sans CJK SC", "DejaVu Sans"])

fig.savefig("out.png", dpi=100, facecolor=fig.get_facecolor())
